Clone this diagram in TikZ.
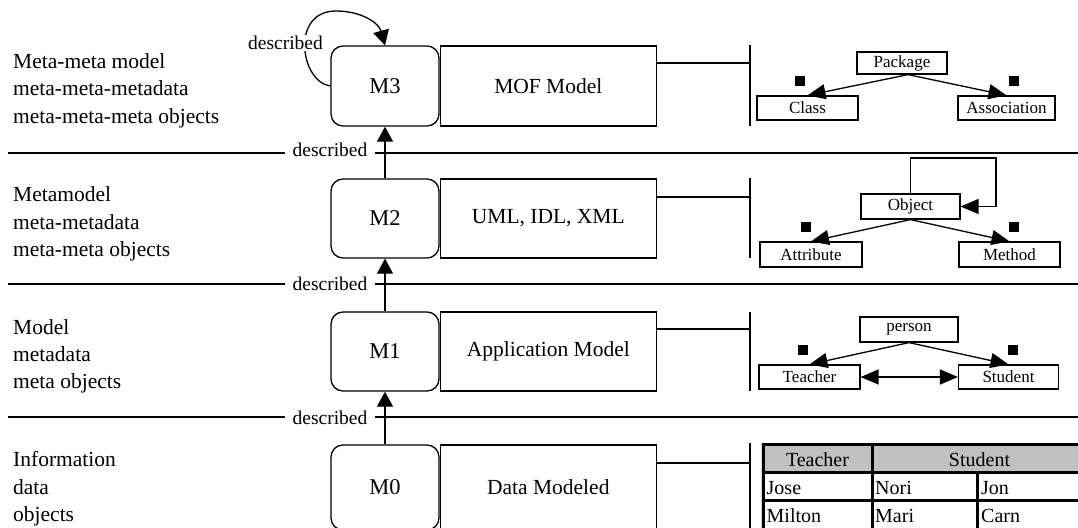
\documentclass[tikz,border=0pt]{standalone}
\usepackage{fontspec}
\setmainfont{Liberation Serif}
\usetikzlibrary{arrows.meta,calc}

\definecolor{headgray}{HTML}{C0C0C0}

\tikzset{
  every picture/.style={x=1pt, y=-1pt},
  line/.style={line width=1.3pt},
  mbox/.style={draw, line width=1.3pt, rounded corners=12pt, minimum width=108pt,
               inner sep=0pt, font=\fontsize{22.5}{26}\selectfont},
  rbox/.style={draw, line width=1.3pt, minimum width=216pt, anchor=west,
               inner sep=0pt, font=\fontsize{21.5}{26}\selectfont},
  lvltext/.style={anchor=base west, inner sep=0pt, font=\fontsize{21.5}{26}\selectfont},
  desc/.style={inner sep=1pt, font=\fontsize{19.5}{22}\selectfont},
  ubox/.style={draw, line width=1.2pt, minimum height=24pt, inner sep=0pt,
               font=\fontsize{17}{20}\selectfont},
  sq/.style={fill=black, minimum size=10pt, inner sep=0pt},
  bigtip/.style={-{Triangle[length=15pt,width=16pt]}, line width=1.3pt},
  smalltip/.style={-{Triangle[length=18pt,width=15pt]}, line width=1.3pt},
  bothtips/.style={{Triangle[length=18pt,width=15pt]}-{Triangle[length=18pt,width=15pt]}, line width=1.3pt},
  cell/.style={anchor=base west, inner sep=0pt, font=\fontsize{20}{24}\selectfont},
  tabrule/.style={line width=3pt},
}

\begin{document}
\begin{tikzpicture}
\useasboundingbox (0,0) rectangle (1078,527);
\clip (0,0) rectangle (1078,527);

% ---------- level descriptions on the left ----------
\node[lvltext] (t3a) at (13,68)    {Meta-meta model};
\node[lvltext] (t3b) at (13,95.5)  {meta-meta-metadata};
\node[lvltext] (t3c) at (13,123)   {meta-meta-meta objects};
\node[lvltext] (t2a) at (13,201.5) {Metamodel};
\node[lvltext] (t2b) at (13,229)   {meta-metadata};
\node[lvltext] (t2c) at (13,256)   {meta-meta objects};
\node[lvltext] (t1a) at (13,334)   {Model};
\node[lvltext] (t1b) at (13,361.5) {metadata};
\node[lvltext] (t1c) at (13,388.5) {meta objects};
\node[lvltext] (t0a) at (13,466.5) {Information};
\node[lvltext] (t0b) at (13,494)   {data};
\node[lvltext] (t0c) at (13,521)   {objects};

% ---------- separators between levels ----------
\foreach \y in {153,284,417} {
  \draw[line] (8,\y) -- (285,\y);
  \draw[line] (375,\y) -- (1078,\y);
}
\node[desc, anchor=base] (d3) at (330,156) {described};
\node[desc, anchor=base] (d2) at (330,290) {described};
\node[desc, anchor=base] (d1) at (330,424) {described};

% ---------- level boxes ----------
\node[mbox, minimum height=80pt] (M3) at (385,86)    {M3};
\node[mbox, minimum height=79pt] (M2) at (385,218.5) {M2};
\node[mbox, minimum height=79pt] (M1) at (385,351.5) {M1};
\node[mbox, minimum height=85pt] (M0) at (385,487.5) {M0};

\node[rbox, minimum height=80pt] (R3) at (M3.east) {MOF Model};
\node[rbox, minimum height=79pt] (R2) at (M2.east) {UML, IDL, XML};
\node[rbox, minimum height=79pt] (R1) at (M1.east) {Application Model};
\node[rbox, minimum height=85pt] (R0) at (M0.east) {Data Modeled};

% upward "described" arrows
\draw[bigtip] (M0.north) -- (M1.south);
\draw[bigtip] (M1.north) -- (M2.south);
\draw[bigtip] (M2.north) -- (M3.south);

% self description of M3
\coordinate (looptop) at (336,11);
\draw[bigtip] (M3.west) .. controls +(-30,-4) and +(-46,0) .. (looptop)
              .. controls +(26,0) and +(-6,-22) .. (M3.north);
\node[desc, fill=white] (d4) at (285.5,43) {described};

% ---------- links to the example panels ----------
\coordinate (b3) at (750,63);
\coordinate (b2) at (750,197);
\coordinate (b1) at (750,329);
\coordinate (b0) at (750,463);
\draw[line] (R3.east |- b3) -- (b3);
\draw[line] (R2.east |- b2) -- (b2);
\draw[line] (R1.east |- b1) -- (b1);
\draw[line] (R0.east |- b0) -- (b0);
\draw[line] (750,45)  -- (750,126);
\draw[line] (750,178) -- (750,258);
\draw[line] (750,312) -- (750,391);
\draw[line] (750,443) -- (750,535);

% ---------- M3 example: MOF ----------
\node[ubox, minimum width=90pt, minimum height=22pt] (pkg) at (902,63) {Package};
\node[ubox, minimum width=101pt] (cls) at (807.5,108)  {Class};
\node[ubox, minimum width=97pt]  (asc) at (1006.5,108) {Association};
\draw[smalltip] ([xshift=6pt]pkg.south) -- (cls.north);
\draw[smalltip] ([xshift=6pt]pkg.south) -- (asc.north);
\node[sq] (sq1) at (799.5,81) {};
\node[sq] (sq2) at (1014,81)  {};

% ---------- M2 example: metamodel ----------
\node[ubox, minimum width=99pt, minimum height=25pt]  (obj) at (910.5,206.5) {Object};
\node[ubox, minimum width=102pt, minimum height=25pt] (att) at (811,254.5)   {Attribute};
\node[ubox, minimum width=101pt, minimum height=25pt] (mth) at (1009.5,254.5){Method};
\coordinate (objloop) at (996,158);
\draw[smalltip] (obj.north) |- (objloop) -- (objloop |- obj.east) -- (obj.east);
\draw[smalltip] (obj.south) -- (att.north);
\draw[smalltip] (obj.south) -- (mth.north);
\node[sq] (sq3) at (806,226.5) {};
\node[sq] (sq4) at (1014,226.5) {};

% ---------- M1 example: application model ----------
\node[ubox, minimum width=98pt, minimum height=25pt] (per) at (909,329.5)  {person};
\node[ubox, minimum width=101pt] (tch) at (809.5,377)  {Teacher};
\node[ubox, minimum width=100pt] (stu) at (1008.5,377) {Student};
\draw[smalltip] (per.south) -- (tch.north);
\draw[smalltip] (per.south) -- (stu.north);
\draw[bothtips] (tch.east) -- (stu.west);
\node[sq] (sq5) at (803,350) {};
\node[sq] (sq6) at (1013,350) {};

% ---------- M0 example: data table ----------
\draw[gray!35, line width=0.8pt] (761,443) -- (761,535);
\fill[headgray] (763,444) rectangle (1090,472);
\draw[tabrule] (763,444) -- (1090,444);
\draw[tabrule] (763,472) -- (1090,472);
\draw[tabrule] (763,500) -- (1090,500);
\draw[tabrule] (763,442.5) -- (763,535);
\draw[tabrule] (872,442.5) -- (872,535);
\draw[tabrule] (977,472) -- (977,535);
\node[anchor=base, inner sep=0pt, font=\fontsize{20}{24}\selectfont] (hT) at (817.5,466) {Teacher};
\node[anchor=base, inner sep=0pt, font=\fontsize{20}{24}\selectfont] (hS) at (979.5,466) {Student};
\node[cell] (c11) at (766.5,494) {Jose};
\node[cell] (c12) at (875,494)   {Nori};
\node[cell] (c13) at (981,494)   {Jon};
\node[cell] (c21) at (766.5,522) {Milton};
\node[cell] (c22) at (875,522)   {Mari};
\node[cell] (c23) at (981,522)   {Carn};
\end{tikzpicture}
\end{document}
